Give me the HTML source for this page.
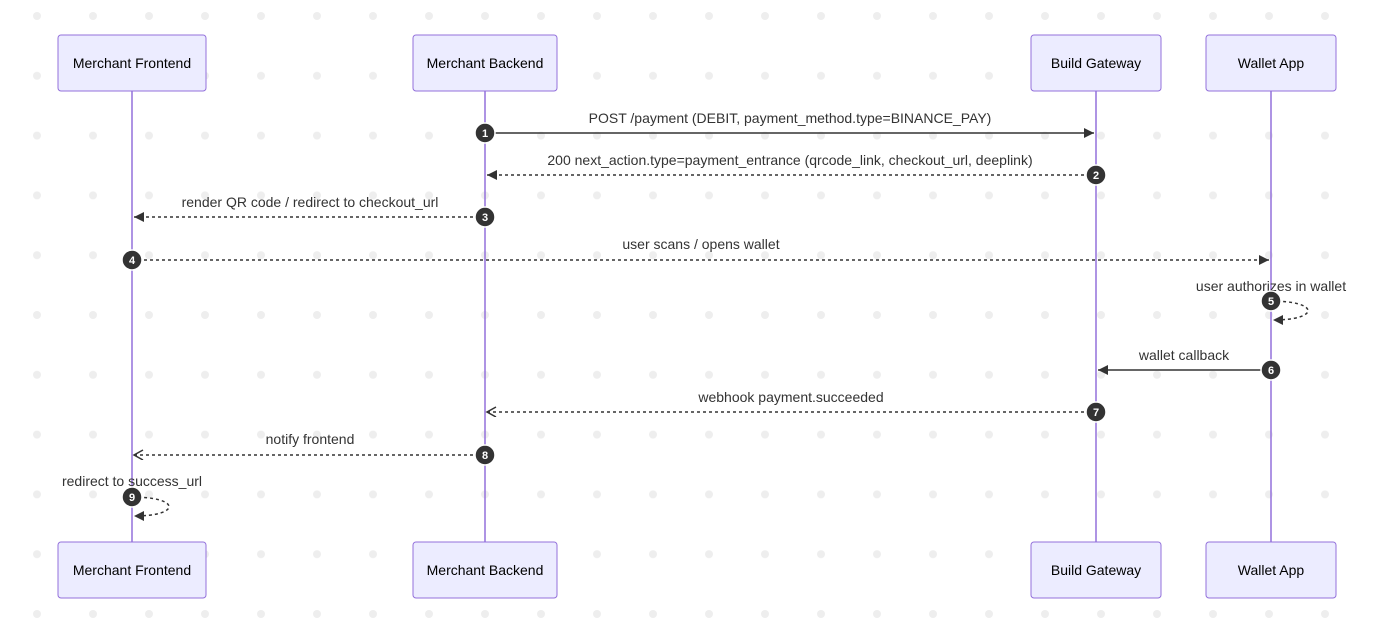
<!DOCTYPE html>
<html><head><style>body{margin:0;background:#fff}svg{display:block}text{font-family:"Liberation Sans",sans-serif}</style></head><body>
<svg width="1376" height="642" viewBox="0 0 1376 642" xmlns="http://www.w3.org/2000/svg">
<defs>
<pattern id="d" x="9" y="16" width="56" height="59.8" patternUnits="userSpaceOnUse"><circle cx="28" cy="0" r="4" fill="#eeeeee"/><circle cx="28" cy="59.8" r="4" fill="#eeeeee"/></pattern>
<marker id="f" markerWidth="12" markerHeight="12" refX="10" refY="5" orient="auto" markerUnits="userSpaceOnUse"><path d="M0,0L10,5L0,10z" fill="#333"/></marker>
<marker id="o" markerWidth="12" markerHeight="12" refX="10" refY="5" orient="auto" markerUnits="userSpaceOnUse"><path d="M1,0L10,5L1,10" fill="none" stroke="#333" stroke-width="1.5"/></marker>
</defs>
<rect width="1376" height="642" fill="url(#d)"/>
<g stroke="#9370db" stroke-width="1.5">
<line x1="132" y1="91" x2="132" y2="542"/><line x1="485" y1="91" x2="485" y2="542"/><line x1="1096" y1="91" x2="1096" y2="542"/><line x1="1271" y1="91" x2="1271" y2="542"/>
</g>
<g fill="#ececff" stroke="#9370db" stroke-width="1">
<rect x="58" y="35" width="148" height="56" rx="3"/><rect x="413" y="35" width="144" height="56" rx="3"/><rect x="1031" y="35" width="130" height="56" rx="3"/><rect x="1206" y="35" width="130" height="56" rx="3"/>
<rect x="58" y="542" width="148" height="56" rx="3"/><rect x="413" y="542" width="144" height="56" rx="3"/><rect x="1031" y="542" width="130" height="56" rx="3"/><rect x="1206" y="542" width="130" height="56" rx="3"/>
</g>
<g font-size="14" text-anchor="middle" fill="#000">
<text x="132" y="68">Merchant Frontend</text><text x="485" y="68">Merchant Backend</text><text x="1096" y="68">Build Gateway</text><text x="1271" y="68">Wallet App</text>
<text x="132" y="575">Merchant Frontend</text><text x="485" y="575">Merchant Backend</text><text x="1096" y="575">Build Gateway</text><text x="1271" y="575">Wallet App</text>
</g>
<g stroke="#333" stroke-width="1.5" fill="none">
<line x1="485" y1="133" x2="1094" y2="133" marker-end="url(#f)"/>
<line x1="1096" y1="175" x2="487" y2="175" stroke-dasharray="3,3" marker-end="url(#f)"/>
<line x1="485" y1="217" x2="134" y2="217" stroke-dasharray="3,3" marker-end="url(#f)"/>
<line x1="132" y1="260" x2="1269" y2="260" stroke-dasharray="3,3" marker-end="url(#f)"/>
<path d="M1271,301 C1320,301 1320,320 1273,320" stroke-dasharray="3,3" marker-end="url(#f)"/>
<line x1="1271" y1="370" x2="1098" y2="370" marker-end="url(#f)"/>
<line x1="1096" y1="412" x2="487" y2="412" stroke-dasharray="3,3" marker-end="url(#o)"/>
<line x1="485" y1="455" x2="134" y2="455" stroke-dasharray="3,3" marker-end="url(#o)"/>
<path d="M132,497 C181,497 181,516 134,516" stroke-dasharray="3,3" marker-end="url(#f)"/>
</g>
<g font-size="14" text-anchor="middle" fill="#333">
<text x="790" y="123">POST /payment (DEBIT, payment_method.type=BINANCE_PAY)</text>
<text x="790" y="165">200 next_action.type=payment_entrance (qrcode_link, checkout_url, deeplink)</text>
<text x="310" y="207">render QR code / redirect to checkout_url</text>
<text x="701" y="249">user scans / opens wallet</text>
<text x="1271" y="291">user authorizes in wallet</text>
<text x="1184" y="360">wallet callback</text>
<text x="791" y="402">webhook payment.succeeded</text>
<text x="310" y="444">notify frontend</text>
<text x="132" y="486">redirect to success_url</text>
</g>
<g fill="#333" stroke="#fff" stroke-width="1.5">
<circle cx="485" cy="133" r="10"/><circle cx="1096" cy="175" r="10"/><circle cx="485" cy="217" r="10"/><circle cx="132" cy="260" r="10"/><circle cx="1271" cy="301" r="10"/><circle cx="1271" cy="370" r="10"/><circle cx="1096" cy="412" r="10"/><circle cx="485" cy="455" r="10"/><circle cx="132" cy="497" r="10"/>
</g>
<g font-size="11" font-weight="bold" text-anchor="middle" fill="#fff">
<text x="485" y="137">1</text><text x="1096" y="179">2</text><text x="485" y="221">3</text><text x="132" y="264">4</text><text x="1271" y="305">5</text><text x="1271" y="374">6</text><text x="1096" y="416">7</text><text x="485" y="459">8</text><text x="132" y="501">9</text>
</g>
</svg>
</body></html>
